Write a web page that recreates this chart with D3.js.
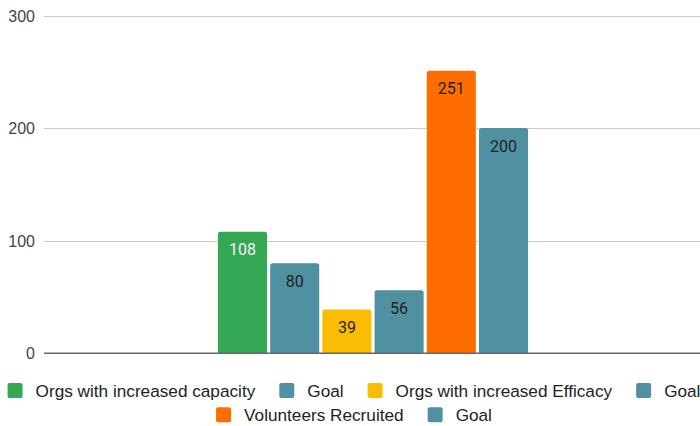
<!DOCTYPE html>
<html>
<head>
<meta charset="utf-8">
<script src="https://cdn.jsdelivr.net/npm/d3@7"></script>
<style>
html,body{margin:0;padding:0;background:#fff;}
svg{display:block;}
</style>
</head>
<body>
<svg id="chart" width="700" height="426"></svg>
<script>
// ---- data ----
const seriesNames = ["Orgs with increased capacity", "Goal", "Orgs with increased Efficacy", "Goal", "Volunteers Recruited", "Goal"];
const seriesValues = [108, 80, 39, 56, 251, 200];
const seriesColors = ["#34a853", "#4f91a1", "#fbbc04", "#4f91a1", "#ff6d01", "#4f91a1"];
const labelColors = ["#f2f2f2", "#1f1f1f", "#1f1f1f", "#1f1f1f", "#1f1f1f", "#1f1f1f"];
const yTicks = [0, 100, 200, 300];
const legendRows = [[0, 1, 2, 3], [4, 5]];

// ---- layout ----
const W = 700, H = 426;
const plotLeft = 44, plotRight = 702, plotTop = 15.5, plotBottom = 353.3;
const svg = d3.select("#chart");

const y = d3.scaleLinear().domain([0, 300]).range([plotBottom, plotTop]);
const x0 = d3.scaleBand().domain(["all"]).range([plotLeft, plotRight]).paddingOuter(0.561).paddingInner(0);
const x1 = d3.scaleBand().domain(d3.range(seriesValues.length)).range([0, x0.bandwidth()]).paddingInner(0.06).paddingOuter(0);

// gridlines
svg.append("g").selectAll("line").data(yTicks.filter(d => d !== 0)).join("line")
  .attr("x1", plotLeft).attr("x2", W)
  .attr("y1", d => Math.round(y(d)) + 0.5).attr("y2", d => Math.round(y(d)) + 0.5)
  .attr("stroke", "#cccccc").attr("stroke-width", 1);

// y axis labels
const yAxis = d3.axisLeft(y).tickValues(yTicks).tickSize(0).tickPadding(9);
const ya = svg.append("g").attr("transform", `translate(${plotLeft},0)`).call(yAxis);
ya.select(".domain").remove();
ya.selectAll("text").attr("font-family", "Liberation Sans, Arial, sans-serif")
  .attr("font-size", 16).attr("fill", "#444").attr("dy", "0.35em");

// bars
function topRounded(x, yTop, w, h, r) {
  r = Math.min(r, h, w / 2);
  return `M${x},${yTop + h}V${yTop + r}Q${x},${yTop} ${x + r},${yTop}H${x + w - r}Q${x + w},${yTop} ${x + w},${yTop + r}V${yTop + h}Z`;
}
const g = svg.append("g").attr("transform", `translate(${x0("all")},0)`);
g.selectAll("path.bar").data(seriesValues).join("path").attr("class", "bar")
  .attr("d", (d, i) => topRounded(x1(i), y(d), x1.bandwidth(), y(0) - y(d), 2.5))
  .attr("fill", (d, i) => seriesColors[i]);

g.selectAll("text.val").data(seriesValues).join("text").attr("class", "val")
  .attr("x", (d, i) => x1(i) + x1.bandwidth() / 2)
  .attr("y", d => y(d) + 23.5)
  .attr("text-anchor", "middle")
  .attr("font-family", "Roboto, sans-serif").attr("font-size", 16)
  .attr("fill", (d, i) => labelColors[i])
  .text(d => d);

// baseline
svg.append("line").attr("x1", plotLeft).attr("x2", W)
  .attr("y1", y(0)).attr("y2", y(0)).attr("stroke", "#666").attr("stroke-width", 1.5);

// legend
const legendRowY = [390.5, 414.7];
const legendCenter = 354;
const sq = 15, textOffset = 28, itemGap = 24;
legendRows.forEach((row, ri) => {
  const grp = svg.append("g");
  let cx = 0;
  row.forEach(i => {
    grp.append("rect").attr("x", cx).attr("y", legendRowY[ri] - sq / 2)
      .attr("width", sq).attr("height", sq).attr("rx", 2)
      .attr("fill", seriesColors[i]);
    const t = grp.append("text").attr("x", cx + textOffset).attr("y", legendRowY[ri])
      .attr("dy", "0.35em")
      .attr("font-family", "Liberation Sans, Arial, sans-serif").attr("font-size", 17.2)
      .attr("fill", "#222").text(seriesNames[i]);
    cx += textOffset + t.node().getComputedTextLength() + itemGap;
  });
  const total = cx - itemGap;
  grp.attr("transform", `translate(${legendCenter - total / 2},0)`);
});
</script>
</body>
</html>
